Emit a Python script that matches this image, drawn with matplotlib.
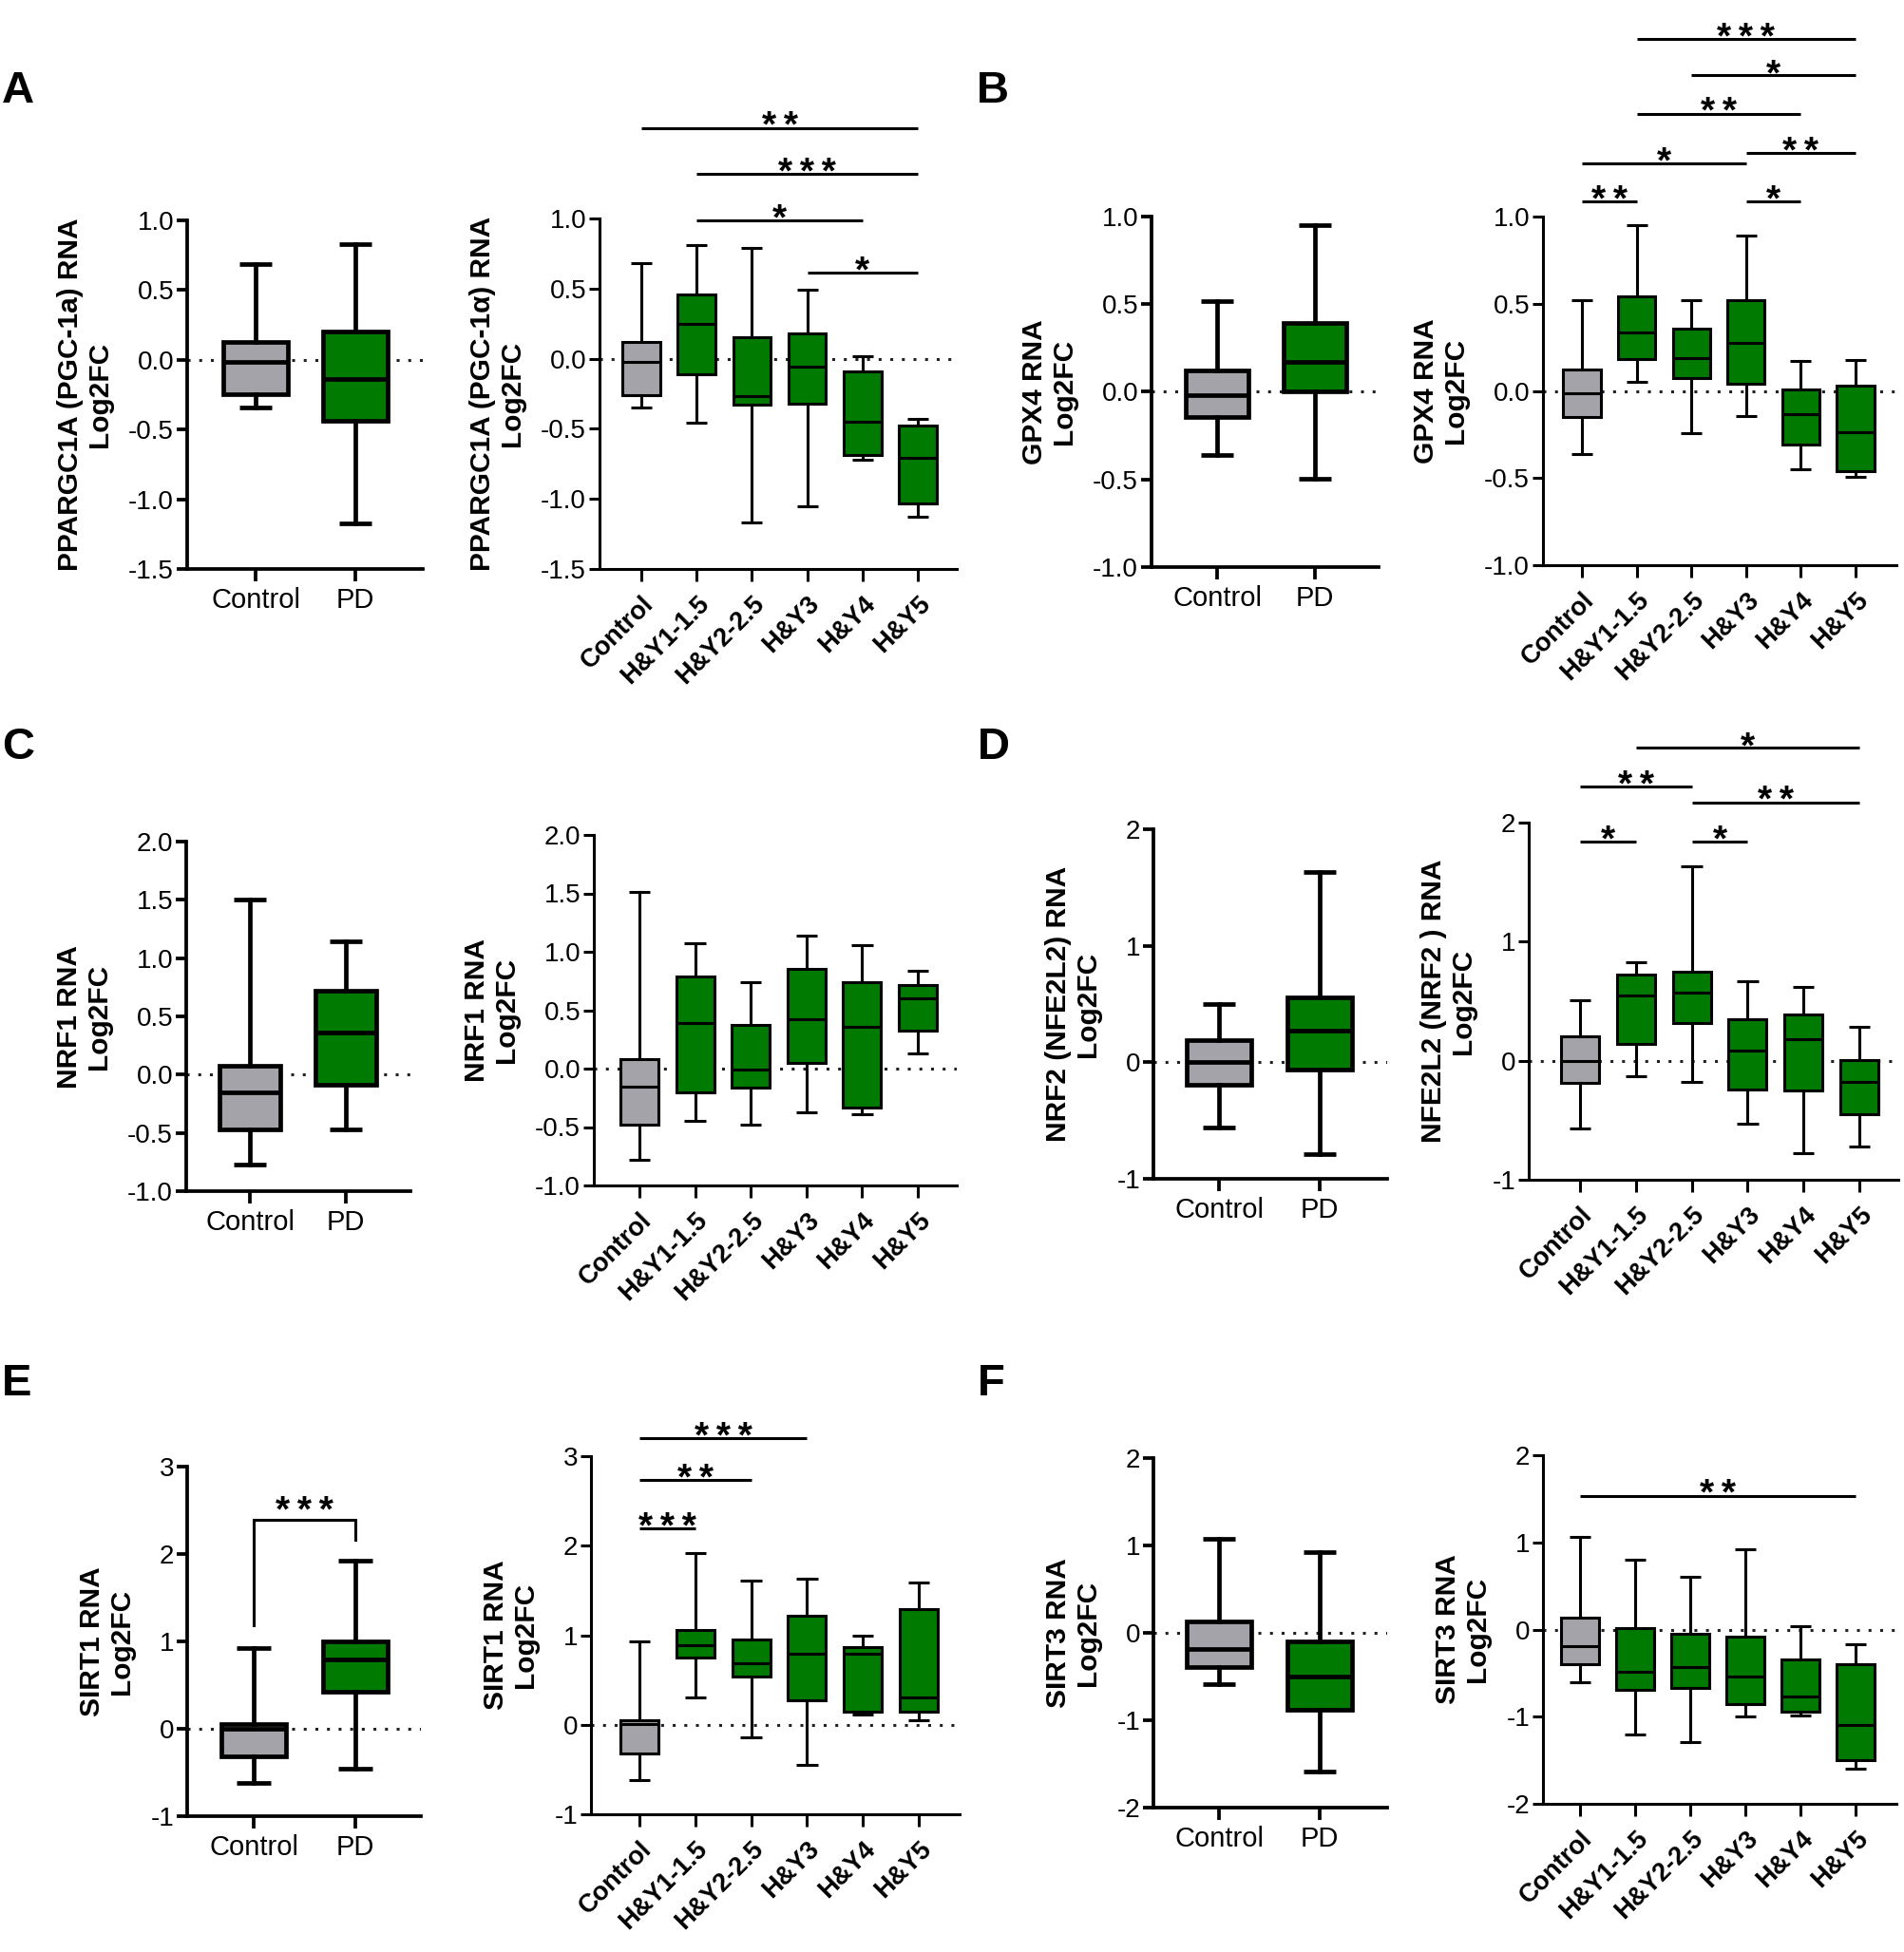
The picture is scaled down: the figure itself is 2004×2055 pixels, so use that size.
import matplotlib
matplotlib.use("Agg")
import matplotlib.pyplot as plt
from matplotlib import transforms

plt.rcParams['font.family'] = ['Liberation Sans', 'DejaVu Sans']
plt.rcParams['axes.unicode_minus'] = False

W, H = 2004, 2055
fig = plt.figure(figsize=(W / 100, H / 100), dpi=100)

GREEN = '#007a00'
GRAY = '#a3a3a9'

cats_2 = ["Control", "PD"]
cats_6 = ["Control", "H&Y1-1.5", "H&Y2-2.5", "H&Y3", "H&Y4", "H&Y5"]

# ---------------- data: five-number summaries ----------------
# A: PPARGC1A
a2_lo = [-0.345, -1.17]
a2_q1 = [-0.25, -0.44]
a2_med = [-0.016, -0.14]
a2_q3 = [0.125, 0.20]
a2_hi = [0.69, 0.83]

a6_lo = [-0.35, -0.46, -1.17, -1.05, -0.72, -1.13]
a6_q1 = [-0.26, -0.11, -0.33, -0.32, -0.69, -1.03]
a6_med = [-0.02, 0.25, -0.27, -0.06, -0.45, -0.71]
a6_q3 = [0.12, 0.46, 0.15, 0.18, -0.09, -0.475]
a6_hi = [0.68, 0.81, 0.79, 0.49, 0.015, -0.43]
a6_sig = [(0, 5, 1.647, '**'), (1, 5, 1.318, '***'), (1, 4, 0.986, '*'), (3, 5, 0.614, '*')]

# B: GPX4
b2_lo = [-0.36, -0.495]
b2_q1 = [-0.145, 0.0]
b2_med = [-0.02, 0.17]
b2_q3 = [0.12, 0.395]
b2_hi = [0.52, 0.95]

b6_lo = [-0.365, 0.05, -0.245, -0.145, -0.45, -0.495]
b6_q1 = [-0.15, 0.18, 0.075, 0.04, -0.31, -0.46]
b6_med = [-0.015, 0.335, 0.19, 0.275, -0.135, -0.235]
b6_q3 = [0.12, 0.54, 0.355, 0.52, 0.01, 0.03]
b6_hi = [0.52, 0.95, 0.52, 0.89, 0.17, 0.175]
b6_sig = [(1, 5, 2.02, '***'), (2, 5, 1.81, '*'), (1, 4, 1.59, '**'), (3, 5, 1.365, '**'),
          (0, 3, 1.305, '*'), (0, 1, 1.087, '**'), (3, 4, 1.087, '*')]

# C: NRF1
c2_lo = [-0.77, -0.47]
c2_q1 = [-0.47, -0.086]
c2_med = [-0.15, 0.36]
c2_q3 = [0.073, 0.72]
c2_hi = [1.50, 1.14]

c6_lo = [-0.78, -0.45, -0.476, -0.37, -0.39, 0.127]
c6_q1 = [-0.476, -0.204, -0.165, 0.05, -0.337, 0.326]
c6_med = [-0.155, 0.39, -0.01, 0.42, 0.36, 0.60]
c6_q3 = [0.084, 0.79, 0.376, 0.857, 0.74, 0.714]
c6_hi = [1.51, 1.07, 0.74, 1.14, 1.06, 0.84]
c6_sig = []

# D: NRF2 (NFE2L2)
d2_lo = [-0.56, -0.79]
d2_q1 = [-0.19, -0.06]
d2_med = [0.0, 0.27]
d2_q3 = [0.19, 0.56]
d2_hi = [0.50, 1.63]

d6_lo = [-0.57, -0.13, -0.18, -0.53, -0.78, -0.717]
d6_q1 = [-0.187, 0.14, 0.318, -0.245, -0.25, -0.447]
d6_med = [0.0, 0.545, 0.57, 0.083, 0.18, -0.18]
d6_q3 = [0.204, 0.724, 0.747, 0.35, 0.39, 0.006]
d6_hi = [0.506, 0.83, 1.636, 0.666, 0.62, 0.285]
d6_sig = [(1, 5, 2.628, '*'), (0, 2, 2.30, '**'), (2, 5, 2.17, '**'),
          (0, 1, 1.84, '*'), (2, 3, 1.84, '*')]

# E: SIRT1
e2_lo = [-0.62, -0.455]
e2_q1 = [-0.32, 0.42]
e2_med = [0.0, 0.795]
e2_q3 = [0.05, 1.0]
e2_hi = [0.92, 1.92]
e2_bracket = (0, 1, 1.18, 2.395, 2.16, '***')

e6_lo = [-0.62, 0.31, -0.14, -0.45, 0.115, 0.05]
e6_q1 = [-0.32, 0.75, 0.54, 0.27, 0.146, 0.146]
e6_med = [0.01, 0.89, 0.69, 0.79, 0.79, 0.31]
e6_q3 = [0.05, 1.06, 0.95, 1.22, 0.87, 1.29]
e6_hi = [0.93, 1.92, 1.61, 1.63, 0.99, 1.59]
e6_sig = [(0, 3, 3.2, '***'), (0, 2, 2.73, '**'), (0, 1, 2.195, '***')]

# F: SIRT3
f2_lo = [-0.59, -1.59]
f2_q1 = [-0.39, -0.875]
f2_med = [-0.19, -0.50]
f2_q3 = [0.13, -0.10]
f2_hi = [1.08, 0.92]

f6_lo = [-0.60, -1.20, -1.29, -1.0, -0.99, -1.6]
f6_q1 = [-0.40, -0.695, -0.67, -0.86, -0.945, -1.5]
f6_med = [-0.19, -0.48, -0.43, -0.54, -0.77, -1.1]
f6_q3 = [0.136, 0.02, -0.045, -0.077, -0.34, -0.40]
f6_hi = [1.06, 0.80, 0.61, 0.92, 0.036, -0.17]
f6_sig = [(0, 5, 1.536, '**')]

ticks_A = [-1.5, -1.0, -0.5, 0.0, 0.5, 1.0]
ticks_B = [-1.0, -0.5, 0.0, 0.5, 1.0]
ticks_C = [-1.0, -0.5, 0.0, 0.5, 1.0, 1.5, 2.0]
ticks_D = [-1, 0, 1, 2]
ticks_E = [-1, 0, 1, 2, 3]
ticks_F = [-2, -1, 0, 1, 2]


def star_text(s):
    return '\u2009'.join(s)


def panel(layout, cats, lo, q1, med, q3, hi, yticks, fmt, ylabel,
          sigs=(), bracket=None):
    x0, x1, ytop, ybot, cf, cl = layout
    n = len(cats)
    wide = n > 2
    ax = fig.add_axes([x0 / W, 1 - ybot / H, (x1 - x0) / W, (ybot - ytop) / H])
    sp = (cl - cf) / (n - 1)
    ax.set_xlim((x0 - cf) / sp, (n - 1) + (x1 - cl) / sp)
    ax.set_ylim(yticks[0], yticks[-1])

    lw = 2.2 if wide else 3.4
    stats = [dict(whislo=lo[i], q1=q1[i], med=med[i], q3=q3[i], whishi=hi[i],
                  fliers=[]) for i in range(n)]
    bw = 0.68 if wide else 0.64
    cw = 0.38 if wide else 0.33
    bp = ax.bxp(stats, positions=list(range(n)), widths=bw, capwidths=cw,
                patch_artist=True, showfliers=False, manage_ticks=False,
                boxprops=dict(linewidth=lw, edgecolor='black'),
                medianprops=dict(linewidth=lw, color='black', solid_capstyle='butt'),
                whiskerprops=dict(linewidth=lw, color='black'),
                capprops=dict(linewidth=lw, color='black', solid_capstyle='butt'))
    for i, b in enumerate(bp['boxes']):
        b.set_facecolor(GRAY if i == 0 else GREEN)
        b.set_zorder(2)

    ax.axhline(0, color='#222222', lw=2.2, ls=(0, (1, 3)), zorder=0.5)

    for s in ('top', 'right'):
        ax.spines[s].set_visible(False)
    slw = 2.2 if wide else 2.7
    for s in ('left', 'bottom'):
        ax.spines[s].set_linewidth(slw)

    ax.set_yticks(yticks)
    ax.set_yticklabels([fmt % v for v in yticks], fontsize=20)
    ax.tick_params(axis='y', length=8, width=slw, pad=2)
    ax.set_xticks(range(n))
    if wide:
        ax.set_xticklabels(cats, rotation=45, ha='right', va='top',
                           rotation_mode='anchor', fontsize=19.5, fontweight='bold')
        ax.tick_params(axis='x', length=9, width=slw, pad=8)
    else:
        ax.set_xticklabels(cats, fontsize=21)
        ax.tick_params(axis='x', length=9, width=slw, pad=5)

    ax.set_ylabel(ylabel, fontsize=21.5, fontweight='bold', labelpad=12,
                  linespacing=1.1)

    slw2 = 2.2
    off = transforms.offset_copy(ax.transData, fig=fig, x=0, y=-7, units='points')
    for (i, j, y, lab) in sigs:
        ax.plot([i, j], [y, y], color='black', lw=slw2, clip_on=False,
                solid_capstyle='butt')
        ax.text((i + j) / 2, y, star_text(lab), ha='center', va='baseline',
                fontsize=28, fontweight='bold', transform=off, clip_on=False)
    if bracket is not None:
        i, j, ya, ytop_b, yb, lab = bracket
        ax.plot([i, i, j, j], [ya, ytop_b, ytop_b, yb], color='black', lw=slw2,
                clip_on=False, solid_joinstyle='miter')
        off2 = transforms.offset_copy(ax.transData, fig=fig, x=0, y=-2, units='points')
        ax.text((i + j) / 2, ytop_b, star_text(lab), ha='center', va='baseline',
                fontsize=28, fontweight='bold', transform=off2, clip_on=False)
    return ax


# layouts: x_axis_start, x_axis_end, y_top, y_bottom, first_cat_x, last_cat_x (pixels)
panel((197, 445, 232, 599, 269, 374), cats_2, a2_lo, a2_q1, a2_med, a2_q3, a2_hi,
      ticks_A, '%.1f', 'PPARGC1A (PGC-1a) RNA\nLog2FC')
panel((631, 1007, 230, 599, 675, 966), cats_6, a6_lo, a6_q1, a6_med, a6_q3, a6_hi,
      ticks_A, '%.1f', 'PPARGC1A (PGC-1\u03b1) RNA\nLog2FC', sigs=a6_sig)
panel((1212, 1451, 228, 597, 1281, 1384), cats_2, b2_lo, b2_q1, b2_med, b2_q3, b2_hi,
      ticks_B, '%.1f', 'GPX4 RNA\nLog2FC')
panel((1624, 1996, 228, 595, 1665, 1953), cats_6, b6_lo, b6_q1, b6_med, b6_q3, b6_hi,
      ticks_B, '%.1f', 'GPX4 RNA\nLog2FC', sigs=b6_sig)

panel((196, 432, 886, 1254, 263, 364), cats_2, c2_lo, c2_q1, c2_med, c2_q3, c2_hi,
      ticks_C, '%.1f', 'NRF1 RNA\nLog2FC')
panel((625, 1007, 879, 1248, 673, 966), cats_6, c6_lo, c6_q1, c6_med, c6_q3, c6_hi,
      ticks_C, '%.1f', 'NRF1 RNA\nLog2FC', sigs=c6_sig)
panel((1214, 1460, 873, 1241, 1283, 1389), cats_2, d2_lo, d2_q1, d2_med, d2_q3, d2_hi,
      ticks_D, '%d', 'NRF2 (NFE2L2) RNA\nLog2FC')
panel((1609, 1998, 866, 1242, 1663, 1957), cats_6, d6_lo, d6_q1, d6_med, d6_q3, d6_hi,
      ticks_D, '%d', 'NFE2L2 (NRF2 ) RNA\nLog2FC', sigs=d6_sig)

panel((197, 443, 1544, 1912, 267, 374), cats_2, e2_lo, e2_q1, e2_med, e2_q3, e2_hi,
      ticks_E, '%d', 'SIRT1 RNA\nLog2FC', bracket=e2_bracket)
panel((622, 1010, 1533, 1910, 673, 967), cats_6, e6_lo, e6_q1, e6_med, e6_q3, e6_hi,
      ticks_E, '%d', 'SIRT1 RNA\nLog2FC', sigs=e6_sig)
panel((1214, 1460, 1535, 1903, 1283, 1389), cats_2, f2_lo, f2_q1, f2_med, f2_q3, f2_hi,
      ticks_F, '%d', 'SIRT3 RNA\nLog2FC')
panel((1624, 1996, 1532, 1899, 1663, 1953), cats_6, f6_lo, f6_q1, f6_med, f6_q3, f6_hi,
      ticks_F, '%d', 'SIRT3 RNA\nLog2FC', sigs=f6_sig)

# panel letters
for lab, x, y in [('A', 2, 108), ('B', 1028, 108), ('C', 2, 799),
                  ('D', 1029, 799), ('E', 2, 1469), ('F', 1029, 1469)]:
    fig.text(x / W, 1 - y / H, lab, fontsize=34, fontweight='bold',
             ha='left', va='baseline')

fig.savefig('out.png', dpi=100, facecolor='white')
